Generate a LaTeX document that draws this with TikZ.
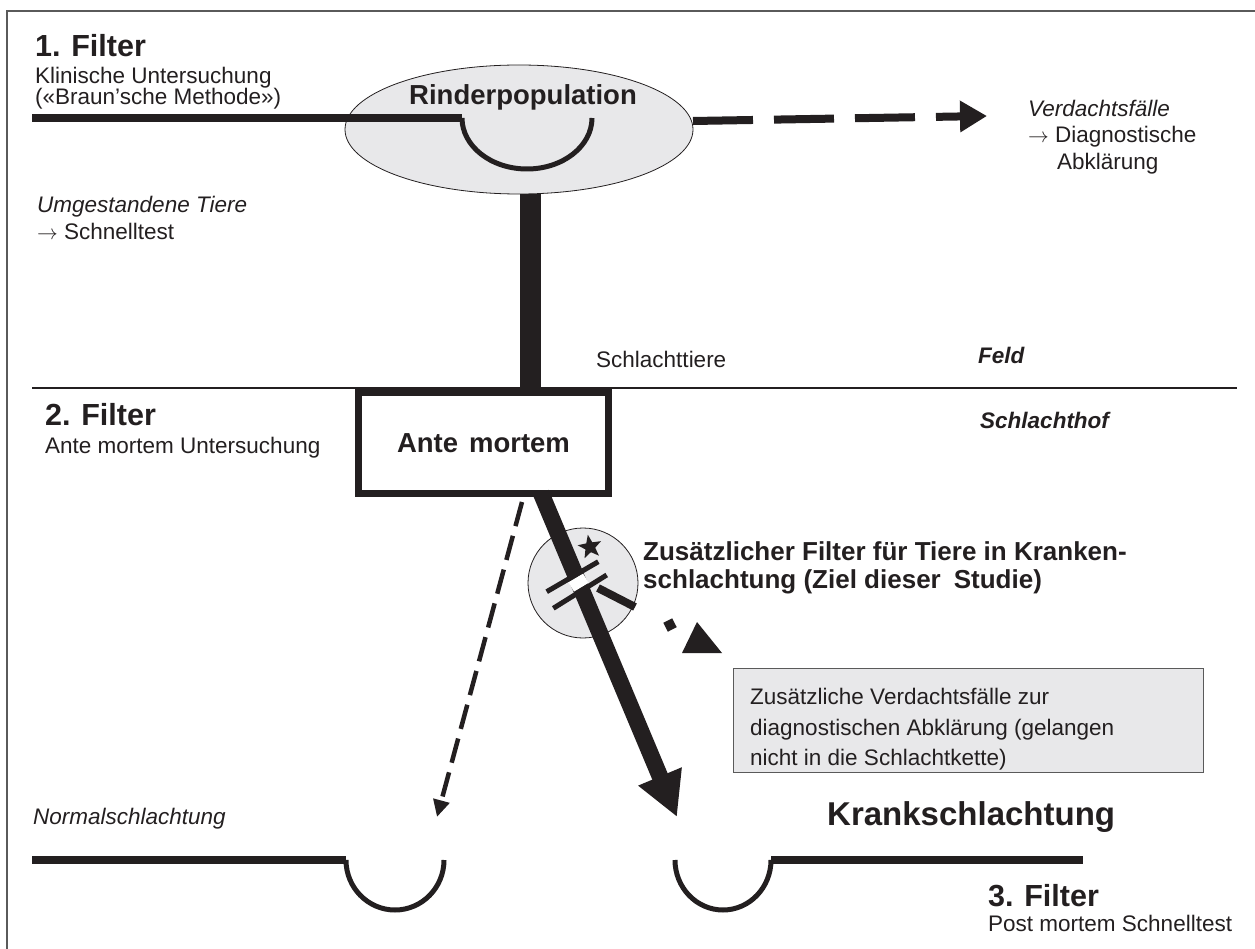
\documentclass[tikz,border=0pt]{standalone}
\usepackage{fontspec}
\setmainfont{Liberation Sans}
\usetikzlibrary{arrows.meta,shapes.geometric}
\definecolor{fillgray}{HTML}{E8E8EA}
\definecolor{ink}{HTML}{231F20}
\definecolor{framegray}{HTML}{5A5A5A}
\newcommand\fsReg{\fontsize{22.5}{26}\selectfont}
\newcommand\fsHead{\fontsize{30.5}{34}\selectfont\bfseries}
\newcommand\fsBig{\fontsize{27.5}{32}\selectfont\bfseries}
\newcommand\fsMid{\fontsize{26}{30}\selectfont\bfseries}
\begin{document}
\begin{tikzpicture}[x=1pt,y=-1pt,
  txt/.style={inner sep=0pt, anchor=base west, text=ink, font=\fsReg},
  heavy/.style={line width=8pt, draw=ink},
  cupline/.style={line width=5pt, draw=ink},
  softfill/.style={fill=fillgray, draw=ink, line width=0.8pt}]
\useasboundingbox (0,0) rectangle (1255,949);
% frame
\draw[framegray, line width=1.5pt] (7,949) -- (7,11) -- (1255,11);

% ---------- top: field ----------
\node[ellipse, softfill, minimum width=348pt, minimum height=129pt, inner sep=0pt] (pop) at (519,129.5) {};
\node[txt, anchor=base, font=\fsBig] (poplabel) at (523,105) {Rinderpopulation};
\coordinate (topL) at (32,118);
\coordinate (cupTL) at (462,118);
\draw[heavy] (topL) -- (cupTL);
\draw[cupline] (cupTL) arc[start angle=180, end angle=360, x radius=65pt, y radius=51pt] coordinate (cupTR);
\coordinate (popE) at (693,121);
\coordinate (verdTip) at (987,116);
\draw[ink, line width=8pt, dash pattern=on 60pt off 21pt, -{Triangle[length=27pt,width=30pt]}] (popE) -- (verdTip);

\node[txt, font=\fsHead] (f1) at (35,57) {1.\hspace{0.35em}Filter};
\node[txt] (f1a) at (35,84) {Klinische Untersuchung};
\node[txt] (f1b) at (35,105) {(«Braun’sche Methode»)};
\node[txt] (umg) at (37,213) {\itshape Umgestandene Tiere};
\node[txt] (umg2) at (37,240) {$\rightarrow$ Schnelltest};
\node[txt] (verd) at (1028,117) {\itshape Verdachtsfälle};
\node[txt] (verd2) at (1028,143) {$\rightarrow$ Diagnostische};
\node[txt] (verd3) at (1057,170) {Abklärung};

% ---------- border field / slaughterhouse ----------
\coordinate (sepL) at (32,388);
\coordinate (sepR) at (1237,388);
\draw[ink, line width=1.8pt] (sepL) -- (sepR);
\node[txt] (schlt) at (596,367) {Schlachttiere};
\node[txt, font=\fsReg\bfseries\itshape] (feld) at (978,363) {Feld};
\node[txt, font=\fsReg\bfseries\itshape] (hof) at (980,428) {Schlachthof};

% ante mortem box
\node[draw=ink, line width=7pt, minimum width=250pt, minimum height=101pt, inner sep=0pt] (am) at (483.5,443) {};
\node[txt, anchor=base, font=\fontsize{27.5}{32}\selectfont\bfseries] (amlabel) at (483.5,452) {Ante\hspace{0.4em}mortem};
\coordinate (barTop) at (530,194);
\coordinate (barBot) at (530,392);
\draw[ink, line width=21pt] (barTop) -- (barBot);

\node[txt, font=\fsHead] (f2) at (45,425) {2.\hspace{0.35em}Filter};
\node[txt] (f2a) at (45,453) {Ante mortem Untersuchung};

% ---------- circle filter ----------
\node[circle, softfill, minimum size=110pt, inner sep=0pt] (circ) at (583,583) {};
\coordinate (thickS) at (541,493);
\coordinate (thickE) at (677,817);
\draw[ink, line width=16.6pt, -{Triangle[length=44pt,width=44pt]}] (thickS) -- (thickE);
\coordinate (gapA) at (571.2,586.9);
\coordinate (gapB) at (585.8,578.1);
\draw[white, line width=11pt] (gapA) -- (gapB);
\coordinate (b1a) at (546.7,591.7);
\coordinate (b1b) at (598.3,561.7);
\coordinate (b2a) at (553.3,608.3);
\coordinate (b2b) at (606.7,575);
\draw[ink, line width=5pt] (b1a) -- (b1b);
\draw[ink, line width=5pt] (b2a) -- (b2b);
\node[star, star points=5, star point ratio=2.4, fill=ink, minimum size=25pt, inner sep=0pt, rotate=10] (starmark) at (590,547) {};

% dotted arrow to extra suspects
\coordinate (dotS) at (598,588);
\coordinate (dotE) at (635,607);
\draw[ink, line width=8pt] (dotS) -- (dotE);
\node[fill=ink, minimum size=10pt, inner sep=0pt, rotate=27] (dotsq) at (670,625) {};
\coordinate (triA) at (682,653);
\coordinate (triB) at (697,622);
\coordinate (triC) at (722,653);
\fill[ink] (triA) -- (triB) -- (triC) -- cycle;

\node[txt, font=\fsMid] (zus1) at (643,560) {Zusätzlicher Filter für Tiere in Kranken-};
\node[txt, font=\fsMid] (zus2) at (643,588) {schlachtung (Ziel dieser\hspace{0.5em}Studie)};

% grey box
\node[fill=fillgray, draw=framegray, line width=1pt, minimum width=470pt, minimum height=104pt, inner sep=0pt] (gbox) at (968,720) {};
\node[txt] (gb1) at (750,704) {Zusätzliche Verdachtsfälle zur};
\node[txt] (gb2) at (750,735) {diagnostischen Abklärung (gelangen};
\node[txt] (gb3) at (750,765) {nicht in die Schlachtkette)};

% dashed normal slaughter arrow
\coordinate (dashS) at (522,502);
\coordinate (dashE) at (437,817);
\draw[ink, line width=4.5pt, dash pattern=on 25pt off 10pt, -{Triangle[length=17pt,width=16pt]}] (dashS) -- (dashE);

% ---------- bottom ----------
\node[txt] (normal) at (33,824) {\itshape Normalschlachtung};
\node[txt, font=\fontsize{33}{37}\selectfont\bfseries] (krank) at (827,825) {Krankschlachtung};
\coordinate (botL) at (32,860);
\coordinate (cupBL) at (346,860);
\draw[heavy] (botL) -- (cupBL);
\draw[cupline] (cupBL) arc[start angle=180, end angle=360, x radius=49pt, y radius=50pt];
\coordinate (cupBR) at (675,860);
\draw[cupline] (cupBR) arc[start angle=180, end angle=360, x radius=48pt, y radius=50pt] coordinate (cupBRe);
\coordinate (botR) at (1083,860);
\draw[heavy] (cupBRe) -- (botR);

\node[txt, font=\fsHead] (f3) at (988,906) {3.\hspace{0.35em}Filter};
\node[txt] (f3a) at (988,931) {Post mortem Schnelltest};
\end{tikzpicture}
\end{document}
